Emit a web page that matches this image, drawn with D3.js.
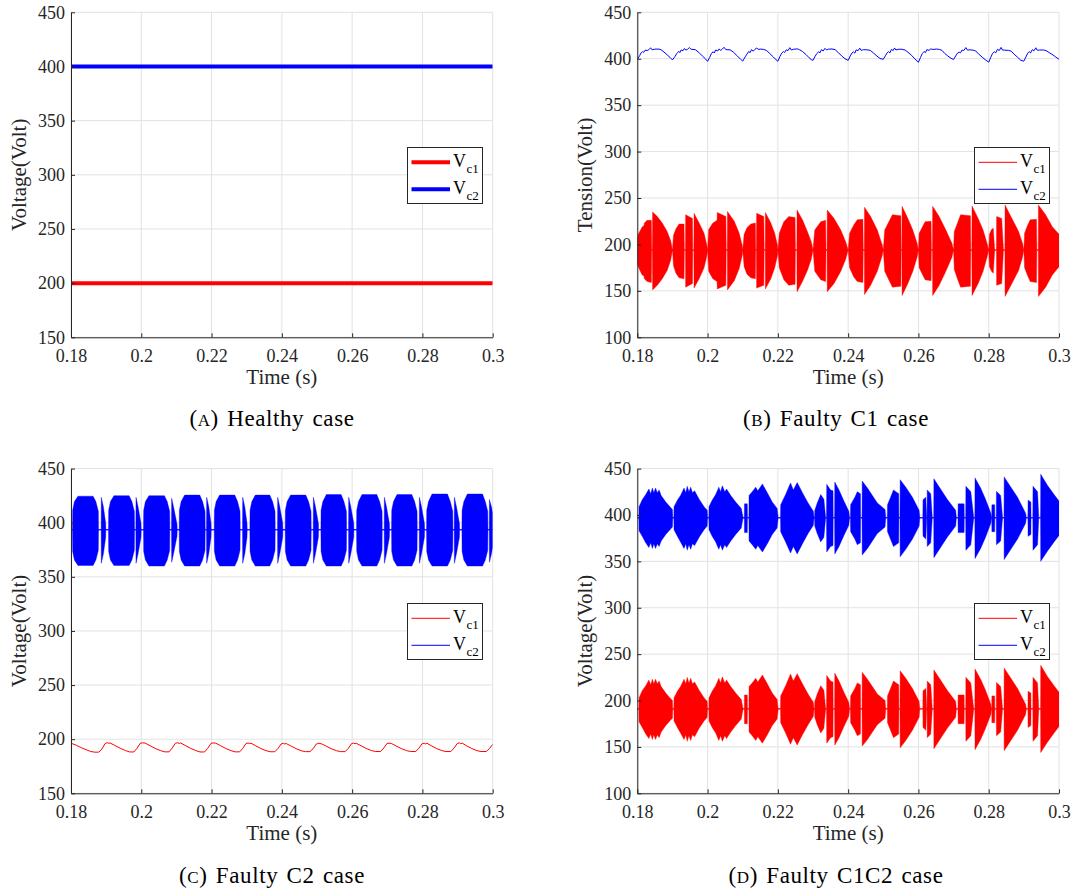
<!DOCTYPE html>
<html>
<head>
<meta charset="UTF-8">
<title>Capacitor voltages</title>
<script src="https://d3js.org/d3.v7.min.js"></script>
<style>
  body { margin: 0; background: #fff; }
  svg { display: block; }
</style>
</head>
<body>
<svg id="chart" width="1076" height="892"></svg>
<script>
const serif = '"Liberation Serif", "Tinos", "Times New Roman"';

// ---- axes ----
const timeDomain = [0.18, 0.3];
const timeTicks = [0.18, 0.2, 0.22, 0.24, 0.26, 0.28, 0.3];
const voltTicksFrom150 = [150, 200, 250, 300, 350, 400, 450];
const voltTicksFrom100 = [100, 150, 200, 250, 300, 350, 400, 450];
const seriesNames = ["c1", "c2"];
const seriesColors = ["#ff0000", "#0000ff"];

// ---- (a) healthy ----
const healthyVc1 = [[0.18, 200], [0.3, 200]];
const healthyVc2 = [[0.18, 400], [0.3, 400]];

// ---- (b) faulty C1 ----
// burst envelope: [time, amplitude above level, amplitude below level]
const faultyC1Vc1Level = 194;
const faultyC1Vc1Envelope = [
  [0.1800, 14, 15], [0.1804, 18, 19], [0.1810, 22, 24], [0.1814, 25, 27], [0.1819, 26, 28],
  [0.1820, 29, 31], [0.1828, 32, 34], [0.1840, 32, 35], [0.1841, 0, 0], [0.1843, 0, 0],
  [0.18435, 41, 43], [0.1857, 36, 38], [0.1871, 29, 31], [0.1885, 20, 22], [0.1895, 10, 11], [0.1900, 0, 0],
  [0.1903, 16, 17], [0.1910, 23, 25], [0.1919, 28, 30], [0.1933, 28, 31], [0.1934, 0, 0], [0.1937, 0, 0],
  [0.19375, 38, 40], [0.1957, 34, 36], [0.1958, 0, 0], [0.1961, 0, 0],
  [0.19615, 39.5, 41], [0.1976, 29, 31], [0.1990, 18, 19], [0.1997, 7, 8], [0.2000, 0, 0],
  [0.2003, 22, 23], [0.2015, 29, 31], [0.2027, 32, 34], [0.20275, 40.5, 42], [0.2052, 36, 38],
  [0.2053, 0, 0], [0.2056, 0, 0], [0.20565, 41.5, 43], [0.2076, 31, 33], [0.2090, 18, 20], [0.2099, 4, 5], [0.2100, 0, 0],
  [0.2104, 17, 18], [0.2112, 24, 26], [0.2123, 28, 30], [0.2136, 29, 31], [0.2137, 0, 0], [0.2139, 0, 0],
  [0.21395, 39.5, 41], [0.2160, 36, 38], [0.2161, 0, 0], [0.2164, 0, 0],
  [0.21645, 40.5, 42], [0.2180, 29, 31], [0.2191, 18, 19], [0.2199, 5, 6], [0.2200, 0, 0],
  [0.2204, 18, 19], [0.2217, 30.5, 32], [0.2231, 36, 38], [0.2249, 35, 37], [0.2250, 0, 0], [0.2254, 0, 0],
  [0.22545, 43, 45], [0.2270, 32.5, 34], [0.2284, 20, 22], [0.2295, 9, 10], [0.2300, 0, 0],
  [0.2305, 21.5, 23], [0.2322, 30.5, 32], [0.2336, 32, 34], [0.2337, 0, 0], [0.2340, 0, 0],
  [0.23405, 43, 45], [0.2360, 34, 36], [0.2379, 21.5, 23], [0.2393, 9, 10], [0.2400, 0, 0],
  [0.2404, 18, 19], [0.2416, 27, 29], [0.2426, 32.5, 34], [0.2442, 33, 35], [0.2443, 0, 0], [0.2446, 0, 0],
  [0.24465, 46, 48], [0.2464, 36, 38], [0.2483, 21.5, 23], [0.2497, 5.5, 6], [0.2500, 0, 0],
  [0.2504, 21.5, 23], [0.2518, 32, 34], [0.2526, 38, 40], [0.2550, 37, 39], [0.2551, 0, 0], [0.2553, 0, 0],
  [0.25535, 47, 49], [0.2570, 34, 36], [0.2584, 21.5, 23], [0.2596, 7.5, 8], [0.2600, 0, 0],
  [0.2602, 18, 19], [0.2619, 30.5, 32], [0.2636, 31, 33], [0.2637, 0, 0], [0.2640, 0, 0],
  [0.26405, 47, 49], [0.2659, 36, 38], [0.2678, 21.5, 23], [0.2695, 7.5, 8], [0.2700, 0, 0],
  [0.2702, 20, 21], [0.2712, 30, 32], [0.2720, 38, 40], [0.2748, 37, 39], [0.2749, 0, 0], [0.2752, 0, 0],
  [0.27525, 47.5, 49], [0.2770, 34, 36], [0.2784, 21.5, 23], [0.2795, 7.5, 8], [0.2800, 0, 0],
  [0.2802, 17, 18], [0.2808, 22, 23], [0.2813, 23.5, 25], [0.2817, 0, 0], [0.2822, 0, 0],
  [0.28225, 36, 38], [0.2837, 34, 36], [0.2842, 0, 0], [0.2846, 0, 0],
  [0.28465, 48.5, 50], [0.2866, 34, 36], [0.2885, 20, 22], [0.2896, 7.5, 8], [0.2900, 0, 0],
  [0.2902, 18, 19], [0.2910, 26, 27], [0.2918, 32.5, 34], [0.2936, 33, 35], [0.2937, 0, 0], [0.2941, 0, 0],
  [0.29415, 48.5, 50], [0.2962, 38, 40], [0.2981, 25, 27], [0.3000, 17, 18]
];
const faultyC1Vc2 = [
  [0.1800, 399.2], [0.1807, 403.5], [0.1811, 406.5], [0.1815, 407.6], [0.1818, 406.8], [0.1822, 409.2], [0.1828, 408.8], [0.1833, 409.8],
  [0.1838, 411.8], [0.1842, 409.6], [0.1850, 410.3], [0.1862, 410.4], [0.1868, 409.5], [0.1876, 407.2], [0.1885, 404.2], [0.1893, 401.5],
  [0.1900, 398.7], [0.1907, 402.2], [0.1912, 405.5], [0.1918, 408.0], [0.1921, 406.6], [0.1925, 409.5], [0.1930, 408.6], [0.1934, 411.0],
  [0.1938, 409.3], [0.1943, 410.2], [0.1948, 412.0], [0.1953, 410.2], [0.1965, 409.8], [0.1975, 406.8], [0.1985, 403.0], [0.1994, 399.8],
  [0.2000, 397.2], [0.2006, 401.5], [0.2011, 405.8], [0.2016, 407.5], [0.2019, 406.2], [0.2023, 409.4], [0.2029, 408.4], [0.2033, 410.6],
  [0.2037, 408.9], [0.2042, 410.4], [0.2047, 412.3], [0.2052, 409.8], [0.2064, 409.6], [0.2074, 406.9], [0.2085, 402.8], [0.2094, 399.4],
  [0.2100, 397.4], [0.2107, 402.0], [0.2112, 405.0], [0.2117, 407.8], [0.2121, 406.5], [0.2125, 409.8], [0.2130, 408.2], [0.2135, 410.2],
  [0.2140, 411.6], [0.2144, 410.0], [0.2150, 410.4], [0.2160, 410.0], [0.2168, 408.8], [0.2177, 405.6], [0.2187, 401.9], [0.2195, 398.8],
  [0.2200, 397.3], [0.2206, 402.5], [0.2211, 406.0], [0.2216, 407.8], [0.2219, 406.6], [0.2224, 409.6], [0.2229, 408.8], [0.2234, 411.9],
  [0.2238, 409.5], [0.2245, 410.2], [0.2256, 410.6], [0.2262, 409.6], [0.2270, 407.8], [0.2280, 404.6], [0.2289, 401.0], [0.2295, 399.0],
  [0.2300, 398.3], [0.2306, 402.6], [0.2311, 405.6], [0.2316, 407.4], [0.2320, 406.4], [0.2324, 409.8], [0.2329, 408.4], [0.2334, 411.2],
  [0.2338, 409.6], [0.2344, 410.3], [0.2354, 410.5], [0.2363, 409.8], [0.2372, 406.6], [0.2382, 402.8], [0.2391, 400.0],
  [0.2400, 398.2], [0.2406, 403.0], [0.2411, 406.2], [0.2415, 407.4], [0.2419, 406.0], [0.2423, 409.6], [0.2428, 408.6], [0.2433, 411.4],
  [0.2437, 409.0], [0.2444, 409.8], [0.2454, 409.6], [0.2463, 409.0], [0.2472, 406.2], [0.2482, 402.8], [0.2491, 400.2],
  [0.2500, 399.4], [0.2506, 403.2], [0.2511, 406.4], [0.2515, 407.6], [0.2519, 406.4], [0.2523, 410.0], [0.2528, 408.8], [0.2532, 411.6],
  [0.2536, 409.4], [0.2542, 410.2], [0.2553, 410.2], [0.2562, 409.4], [0.2570, 407.0], [0.2580, 403.8], [0.2590, 399.8],
  [0.2600, 396.2], [0.2606, 401.4], [0.2611, 405.6], [0.2616, 407.8], [0.2620, 406.6], [0.2624, 409.8], [0.2630, 409.0], [0.2635, 410.6],
  [0.2641, 410.0], [0.2652, 410.4], [0.2660, 410.0], [0.2667, 409.0], [0.2675, 405.6], [0.2684, 402.8], [0.2693, 400.4],
  [0.2700, 399.2], [0.2706, 403.0], [0.2711, 406.0], [0.2716, 407.0], [0.2720, 406.4], [0.2724, 409.4], [0.2729, 408.8], [0.2735, 412.0],
  [0.2739, 409.4], [0.2746, 409.6], [0.2756, 409.2], [0.2763, 408.4], [0.2771, 405.2], [0.2781, 401.8], [0.2790, 399.0],
  [0.2800, 396.3], [0.2806, 401.6], [0.2811, 405.8], [0.2816, 407.4], [0.2820, 406.4], [0.2825, 410.2], [0.2830, 408.8], [0.2835, 412.2],
  [0.2839, 409.4], [0.2846, 409.2], [0.2856, 409.0], [0.2864, 408.2], [0.2872, 405.0], [0.2882, 401.6], [0.2891, 398.4],
  [0.2900, 397.4], [0.2906, 402.0], [0.2911, 406.0], [0.2915, 407.6], [0.2919, 406.2], [0.2924, 409.8], [0.2929, 408.6], [0.2934, 411.8],
  [0.2938, 409.2], [0.2945, 409.4], [0.2956, 409.4], [0.2963, 408.8], [0.2972, 406.6], [0.2983, 404.0], [0.2991, 401.8], [0.3000, 399.4]
];

// ---- (c) faulty C2 ----
const faultyC2Vc1 = [
  [0.1800, 196.3], [0.1815, 194.4], [0.1830, 192.0], [0.1845, 190.0], [0.1856, 188.6], [0.1868, 188.0], [0.1879, 188.0], [0.1888, 191.0],
  [0.1897, 196.0], [0.1903, 196.8], [0.1906, 196.2], [0.1911, 196.5],
  [0.1925, 194.2], [0.1940, 191.6], [0.1955, 189.5], [0.1967, 188.2], [0.1979, 188.2], [0.1988, 191.6], [0.1997, 196.2], [0.2004, 196.6], [0.2011, 196.4],
  [0.2025, 194.0], [0.2040, 191.4], [0.2055, 189.4], [0.2067, 188.3], [0.2079, 188.3], [0.2088, 191.8], [0.2097, 196.2], [0.2103, 196.7], [0.2108, 196.1], [0.2112, 196.5],
  [0.2125, 194.2], [0.2140, 191.6], [0.2155, 189.5], [0.2167, 188.2], [0.2180, 188.2], [0.2189, 191.5], [0.2198, 196.0], [0.2204, 196.6], [0.2212, 196.3],
  [0.2225, 194.1], [0.2240, 191.5], [0.2255, 189.4], [0.2267, 188.3], [0.2280, 188.3], [0.2289, 191.6], [0.2298, 196.0], [0.2304, 196.5], [0.2307, 195.9], [0.2312, 196.3],
  [0.2325, 194.0], [0.2340, 191.4], [0.2355, 189.4], [0.2367, 188.4], [0.2380, 188.4], [0.2389, 191.4], [0.2398, 195.6], [0.2404, 196.2], [0.2408, 195.6], [0.2412, 196.0],
  [0.2425, 193.9], [0.2440, 191.3], [0.2455, 189.3], [0.2467, 188.5], [0.2480, 188.5], [0.2489, 191.2], [0.2498, 195.5], [0.2504, 196.2], [0.2512, 195.8],
  [0.2525, 193.8], [0.2540, 191.3], [0.2555, 189.4], [0.2567, 188.5], [0.2580, 188.5], [0.2589, 191.5], [0.2598, 195.8], [0.2604, 196.4], [0.2608, 195.8], [0.2612, 196.2],
  [0.2625, 194.0], [0.2640, 191.4], [0.2655, 189.5], [0.2667, 188.6], [0.2681, 188.6], [0.2690, 191.8], [0.2699, 196.0], [0.2705, 196.3], [0.2712, 196.0],
  [0.2725, 193.8], [0.2740, 191.3], [0.2755, 189.4], [0.2767, 188.6], [0.2781, 188.6], [0.2790, 191.6], [0.2799, 195.8], [0.2805, 196.3], [0.2809, 195.6], [0.2813, 196.2],
  [0.2825, 194.0], [0.2840, 191.4], [0.2855, 189.5], [0.2867, 188.6], [0.2881, 188.6], [0.2890, 191.8], [0.2899, 196.0], [0.2905, 196.6], [0.2909, 195.8], [0.2913, 196.4],
  [0.2925, 194.0], [0.2940, 191.4], [0.2955, 189.4], [0.2967, 188.6], [0.2982, 188.6], [0.2991, 191.5], [0.3000, 195.2]
];
const faultyC2Vc2Level = 393.5;
const faultyC2Vc2Envelope = [
  [0.18000, 0, 0], [0.18042, 0, 0], [0.18047, 18, 20], [0.18097, 26, 28], [0.18197, 31, 33], [0.18628, 31, 33], [0.18708, 26, 28], [0.18778, 17, 19], [0.18783, 0, 0],
  [0.18858, 0, 0], [0.18863, 30, 31], [0.18923, 21, 22], [0.18987, 6, 7], [0.18992, 0, 0],
  [0.19067, 0, 0], [0.19072, 18, 20], [0.19122, 26, 28], [0.19222, 31.5, 33], [0.19653, 31.5, 33], [0.19733, 26, 28], [0.19803, 17, 19], [0.19808, 0, 0],
  [0.19845, 0, 0], [0.19850, 30, 31], [0.19910, 21, 22], [0.19992, 6, 7], [0.19997, 0, 0],
  [0.20063, 0, 0], [0.20068, 18, 20], [0.20118, 26, 28], [0.20218, 31.5, 33.5], [0.20658, 31.5, 33.5], [0.20738, 26, 28], [0.20808, 17, 19], [0.20813, 0, 0],
  [0.20860, 0, 0], [0.20865, 29, 30], [0.20925, 20, 21], [0.21017, 5, 6], [0.21022, 0, 0],
  [0.21079, 0, 0], [0.21084, 18, 20], [0.21134, 26, 28], [0.21234, 32, 33.5], [0.21664, 32, 33.5], [0.21744, 26, 28], [0.21814, 17, 19], [0.21819, 0, 0],
  [0.21856, 0, 0], [0.21861, 30, 31], [0.21921, 21, 22], [0.21985, 6, 7], [0.21990, 0, 0],
  [0.22075, 0, 0], [0.22080, 18, 20], [0.22130, 26, 28], [0.22230, 32, 33.5], [0.22660, 32, 33.5], [0.22740, 26, 28], [0.22810, 17, 19], [0.22815, 0, 0],
  [0.22881, 0, 0], [0.22886, 30, 31], [0.22946, 21, 22], [0.23009, 6, 7], [0.23014, 0, 0],
  [0.23090, 0, 0], [0.23095, 18, 20], [0.23145, 26, 28], [0.23245, 32, 33.5], [0.23656, 32, 33.5], [0.23736, 26, 28], [0.23806, 17, 19], [0.23811, 0, 0],
  [0.23877, 0, 0], [0.23882, 30, 31], [0.23942, 21, 22], [0.24025, 6, 7], [0.24030, 0, 0],
  [0.24095, 0, 0], [0.24100, 18, 20], [0.24150, 26, 28], [0.24250, 32, 33.5], [0.24681, 32, 33.5], [0.24761, 26, 28], [0.24831, 17, 19], [0.24836, 0, 0],
  [0.24893, 0, 0], [0.24898, 30, 31], [0.24958, 21, 22], [0.25040, 6, 7], [0.25045, 0, 0],
  [0.25111, 0, 0], [0.25116, 18, 20], [0.25166, 26, 28], [0.25266, 32.5, 33.5], [0.25687, 32.5, 33.5], [0.25767, 26, 28], [0.25837, 17, 19], [0.25842, 0, 0],
  [0.25898, 0, 0], [0.25903, 30, 31], [0.25963, 21, 22], [0.26046, 6, 7], [0.26051, 0, 0],
  [0.26126, 0, 0], [0.26131, 18, 20], [0.26181, 26, 28], [0.26281, 32.5, 33.5], [0.26702, 32.5, 33.5], [0.26782, 26, 28], [0.26852, 17, 19], [0.26857, 0, 0],
  [0.26913, 0, 0], [0.26918, 30, 31], [0.26978, 21, 22], [0.27060, 6, 7], [0.27065, 0, 0],
  [0.27122, 0, 0], [0.27127, 18, 20], [0.27177, 26, 28], [0.27277, 32.5, 33.5], [0.27698, 32.5, 33.5], [0.27778, 26, 28], [0.27848, 17, 19], [0.27853, 0, 0],
  [0.27910, 0, 0], [0.27915, 30, 31], [0.27975, 21, 22], [0.28057, 6, 7], [0.28062, 0, 0],
  [0.28118, 0, 0], [0.28123, 18, 20], [0.28173, 26, 28], [0.28273, 33, 33.5], [0.28713, 33, 33.5], [0.28793, 26, 28], [0.28863, 17, 19], [0.28868, 0, 0],
  [0.28905, 0, 0], [0.28910, 30, 31], [0.28970, 21, 22], [0.29053, 6, 7], [0.29058, 0, 0],
  [0.29124, 0, 0], [0.29129, 18, 20], [0.29179, 26, 28], [0.29279, 33, 33.5], [0.29710, 33, 33.5], [0.29790, 26, 28], [0.29860, 17, 19], [0.29865, 0, 0],
  [0.29902, 0, 0], [0.29907, 28, 30], [0.29967, 21, 22], [0.30000, 15, 16]
];

// ---- (d) faulty C1 and C2: both voltages show the same burst envelope ----
const faultyC1C2Vc1Level = 191;
const faultyC1C2Vc2Level = 397;
const faultyC1C2Envelope = [
  [0.18000, 0, 0], [0.18045, 0, 0], [0.18050, 12, 14], [0.18140, 19.5, 20], [0.18240, 25, 27], [0.18330, 31, 32], [0.18380, 26, 27],
  [0.18430, 32, 33], [0.18470, 27, 28], [0.18520, 32, 33], [0.18570, 27, 28], [0.18620, 30, 31], [0.18680, 24, 25], [0.18810, 17, 18],
  [0.18950, 11, 12], [0.19000, 9, 10], [0.19010, 0, 0], [0.19040, 0, 0],
  [0.19045, 12, 13], [0.19140, 19, 20], [0.19230, 24, 26], [0.19330, 32, 33], [0.19380, 27, 28], [0.19420, 34, 35], [0.19470, 28, 29],
  [0.19520, 33, 34], [0.19570, 27, 28], [0.19630, 29, 30], [0.19760, 20, 21], [0.19900, 12, 13], [0.19990, 8, 9], [0.20000, 0, 0], [0.20035, 0, 0],
  [0.20040, 12, 13], [0.20130, 19, 20], [0.20230, 25, 26], [0.20320, 33, 34], [0.20370, 28, 29], [0.20420, 34.5, 35], [0.20490, 28, 29],
  [0.20540, 31, 32], [0.20660, 24, 25], [0.20800, 17, 18], [0.20960, 10, 11], [0.21010, 0, 0], [0.21045, 0, 0],
  [0.21050, 15, 16], [0.21130, 15, 16], [0.21135, 0, 0], [0.21175, 0, 0], [0.21180, 24, 25], [0.21270, 28, 29], [0.21370, 33, 34],
  [0.21430, 29, 30], [0.21560, 36.5, 37], [0.21700, 27, 28], [0.21840, 17, 18], [0.21980, 10, 11], [0.22010, 0, 0], [0.22075, 0, 0],
  [0.22080, 14, 15], [0.22220, 25, 26], [0.22360, 37.5, 38], [0.22440, 30, 31], [0.22550, 38, 39], [0.22700, 27, 28], [0.22860, 16, 17],
  [0.23010, 7, 8], [0.23030, 0, 0], [0.23045, 0, 0],
  [0.23050, 8, 9], [0.23120, 16, 17], [0.23220, 25, 26], [0.23310, 20, 21], [0.23360, 0, 0], [0.23385, 0, 0], [0.23390, 36, 37],
  [0.23500, 30, 31], [0.23570, 29, 30], [0.23575, 0, 0], [0.23615, 0, 0], [0.23620, 38.5, 39], [0.23740, 30, 31], [0.23880, 18, 19],
  [0.24020, 7, 8], [0.24040, 0, 0], [0.24065, 0, 0],
  [0.24070, 14, 15], [0.24190, 22, 23], [0.24260, 28, 29], [0.24350, 26, 27], [0.24355, 0, 0], [0.24395, 0, 0], [0.24400, 39.5, 40],
  [0.24550, 32, 33], [0.24690, 24, 25], [0.24830, 16, 17], [0.25050, 9, 10], [0.25070, 0, 0], [0.25115, 0, 0],
  [0.25120, 14, 15], [0.25290, 30, 31], [0.25440, 26, 27], [0.25445, 0, 0], [0.25475, 0, 0], [0.25480, 41, 42], [0.25640, 33, 34],
  [0.25830, 22, 23], [0.26020, 8, 9], [0.26040, 0, 0], [0.26125, 0, 0],
  [0.26130, 19.5, 20], [0.26210, 22, 23], [0.26235, 0, 0], [0.26245, 0, 0], [0.26250, 30, 31], [0.26350, 26, 27], [0.26395, 0, 0],
  [0.26435, 0, 0], [0.26440, 42, 43], [0.26630, 31, 32], [0.26820, 20, 21], [0.27060, 8, 9], [0.27080, 0, 0], [0.27125, 0, 0],
  [0.27130, 15, 16], [0.27300, 15, 16], [0.27305, 0, 0], [0.27345, 0, 0], [0.27350, 34, 35], [0.27490, 28, 29], [0.27575, 0, 0],
  [0.27605, 0, 0], [0.27610, 43, 44], [0.27770, 32, 33], [0.27910, 20, 21], [0.28060, 5, 6], [0.28080, 0, 0], [0.28085, 0, 0],
  [0.28090, 14, 15], [0.28170, 14, 15], [0.28175, 0, 0], [0.28215, 0, 0], [0.28220, 28.5, 29], [0.28340, 24, 25], [0.28395, 0, 0],
  [0.28435, 0, 0], [0.28440, 44, 45], [0.28630, 33, 34], [0.28820, 22, 23], [0.29050, 5, 6], [0.29070, 0, 0], [0.29115, 0, 0],
  [0.29120, 19, 20], [0.29200, 17, 18], [0.29205, 0, 0], [0.29255, 0, 0], [0.29260, 34, 35], [0.29390, 28, 29], [0.29425, 0, 0],
  [0.29475, 0, 0], [0.29480, 47, 47], [0.29670, 35, 36], [0.29860, 25, 26], [0.30000, 18, 19]
];

// ---- layout ----
const panels = [
  { key: "a", left: 71, right: 492.7, top: 12.3, bottom: 337.3, yDomain: [150, 450], yTicks: voltTicksFrom150,
    yLabel: "Voltage(Volt)", letter: "A", caption: " Healthy case", capX: 272, capY: 426, legendX: 407, legendY: 147, lineWidth: 4,
    series: [{ points: healthyVc1, color: seriesColors[0] }, { points: healthyVc2, color: seriesColors[1] }] },
  { key: "b", left: 637.3, right: 1059, top: 12.3, bottom: 337.3, yDomain: [100, 450], yTicks: voltTicksFrom100,
    yLabel: "Tension(Volt)", letter: "B", caption: " Faulty C1 case", capX: 836, capY: 426, legendX: 974, legendY: 147, lineWidth: 1,
    series: [{ envelope: faultyC1Vc1Envelope, level: faultyC1Vc1Level, color: seriesColors[0] }, { points: faultyC1Vc2, color: seriesColors[1] }] },
  { key: "c", left: 71, right: 492.7, top: 468.6, bottom: 793.3, yDomain: [150, 450], yTicks: voltTicksFrom150,
    yLabel: "Voltage(Volt)", letter: "C", caption: " Faulty C2 case", capX: 272, capY: 883, legendX: 407, legendY: 603, lineWidth: 1,
    series: [{ points: faultyC2Vc1, color: seriesColors[0] }, { envelope: faultyC2Vc2Envelope, level: faultyC2Vc2Level, color: seriesColors[1] }] },
  { key: "d", left: 637.3, right: 1059, top: 468.6, bottom: 793.3, yDomain: [100, 450], yTicks: voltTicksFrom100,
    yLabel: "Voltage(Volt)", letter: "D", caption: " Faulty C1C2 case", capX: 836, capY: 883, legendX: 974, legendY: 603, lineWidth: 1,
    series: [{ envelope: faultyC1C2Envelope, level: faultyC1C2Vc1Level, color: seriesColors[0] },
             { envelope: faultyC1C2Envelope, level: faultyC1C2Vc2Level, color: seriesColors[1] }] }
];

const svg = d3.select("#chart");
const fmt = d => String(+d.toFixed(2));

panels.forEach(p => {
  const x = d3.scaleLinear().domain(timeDomain).range([p.left, p.right]);
  const y = d3.scaleLinear().domain(p.yDomain).range([p.bottom, p.top]);
  const g = svg.append("g");

  svg.append("clipPath").attr("id", "clip-" + p.key)
    .append("rect")
    .attr("x", p.left).attr("y", p.top)
    .attr("width", p.right - p.left).attr("height", p.bottom - p.top);

  // grid
  g.append("g").selectAll("line").data(timeTicks).join("line")
    .attr("x1", d => x(d)).attr("x2", d => x(d))
    .attr("y1", p.top).attr("y2", p.bottom)
    .attr("stroke", "#e2e2e2");
  g.append("g").selectAll("line").data(p.yTicks).join("line")
    .attr("x1", p.left).attr("x2", p.right)
    .attr("y1", d => y(d)).attr("y2", d => y(d))
    .attr("stroke", "#e2e2e2");

  // data
  const plot = g.append("g").attr("clip-path", `url(#clip-${p.key})`);
  const line = d3.line().x(d => x(d[0])).y(d => y(d[1]));
  p.series.forEach(s => {
    if (s.envelope) {
      const area = d3.area()
        .x(d => x(d[0]))
        .y0(d => y(s.level - d[2]))
        .y1(d => y(s.level + d[1]));
      plot.append("path").datum(s.envelope)
        .attr("d", area).attr("fill", s.color).attr("stroke", s.color).attr("stroke-width", 0.4);
      plot.append("path").datum(timeDomain.map(t => [t, s.level]))
        .attr("d", line).attr("fill", "none").attr("stroke", s.color).attr("stroke-width", 1);
    } else {
      plot.append("path").datum(s.points)
        .attr("d", line).attr("fill", "none")
        .attr("stroke", s.color).attr("stroke-width", p.lineWidth);
    }
  });

  // axes
  const xAxis = d3.axisBottom(x).tickValues(timeTicks).tickFormat(fmt)
    .tickSize(-4).tickSizeOuter(0).tickPadding(12);
  const yAxis = d3.axisLeft(y).tickValues(p.yTicks)
    .tickSize(-4).tickSizeOuter(0).tickPadding(6);
  const gx = g.append("g").attr("transform", `translate(0,${p.bottom})`).call(xAxis);
  const gy = g.append("g").attr("transform", `translate(${p.left},0)`).call(yAxis);
  [gx, gy].forEach(a => {
    a.select(".domain").attr("stroke", "#262626");
    a.selectAll(".tick line").attr("stroke", "#262626");
    a.selectAll(".tick text")
      .style("font-family", serif).style("font-size", "18px").attr("fill", "#262626");
  });

  g.append("text")
    .attr("x", (p.left + p.right) / 2).attr("y", p.bottom + 47)
    .attr("text-anchor", "middle").attr("fill", "#262626")
    .style("font-family", serif).style("font-size", "21px")
    .text("Time (s)");
  g.append("text")
    .attr("transform", `translate(${p.left - 45},${(p.top + p.bottom) / 2}) rotate(-90)`)
    .attr("text-anchor", "middle").attr("fill", "#262626")
    .style("font-family", serif).style("font-size", "21px")
    .text(p.yLabel);

  // legend
  const lg = g.append("g").attr("transform", `translate(${p.legendX},${p.legendY})`);
  lg.append("rect").attr("x", 0.5).attr("y", 0.5).attr("width", 75).attr("height", 56)
    .attr("fill", "#fff").attr("stroke", "#262626").attr("stroke-width", 1);
  const rows = lg.selectAll("g.row").data(seriesNames).join("g")
    .attr("class", "row")
    .attr("transform", (d, i) => `translate(0,${15.3 + i * 27})`);
  rows.append("line").attr("x1", 4.5).attr("x2", 43)
    .attr("stroke", (d, i) => seriesColors[i]).attr("stroke-width", p.lineWidth);
  const lt = rows.append("text").attr("x", 46).attr("y", 4.5)
    .style("font-family", serif).style("font-size", "18px").attr("fill", "#000");
  lt.append("tspan").text("V");
  lt.append("tspan").attr("dx", 0.5).attr("dy", 6.5).style("font-size", "13px").text(d => d);

  // caption
  const cap = g.append("text")
    .attr("x", p.capX).attr("y", p.capY).attr("text-anchor", "middle").attr("fill", "#000")
    .style("font-family", serif).style("font-size", "23px")
    .style("letter-spacing", "0.6px").style("word-spacing", "2px");
  cap.append("tspan").text("(");
  cap.append("tspan").style("font-size", "17px").text(p.letter);
  cap.append("tspan").text(")" + p.caption);
});
</script>
</body>
</html>
